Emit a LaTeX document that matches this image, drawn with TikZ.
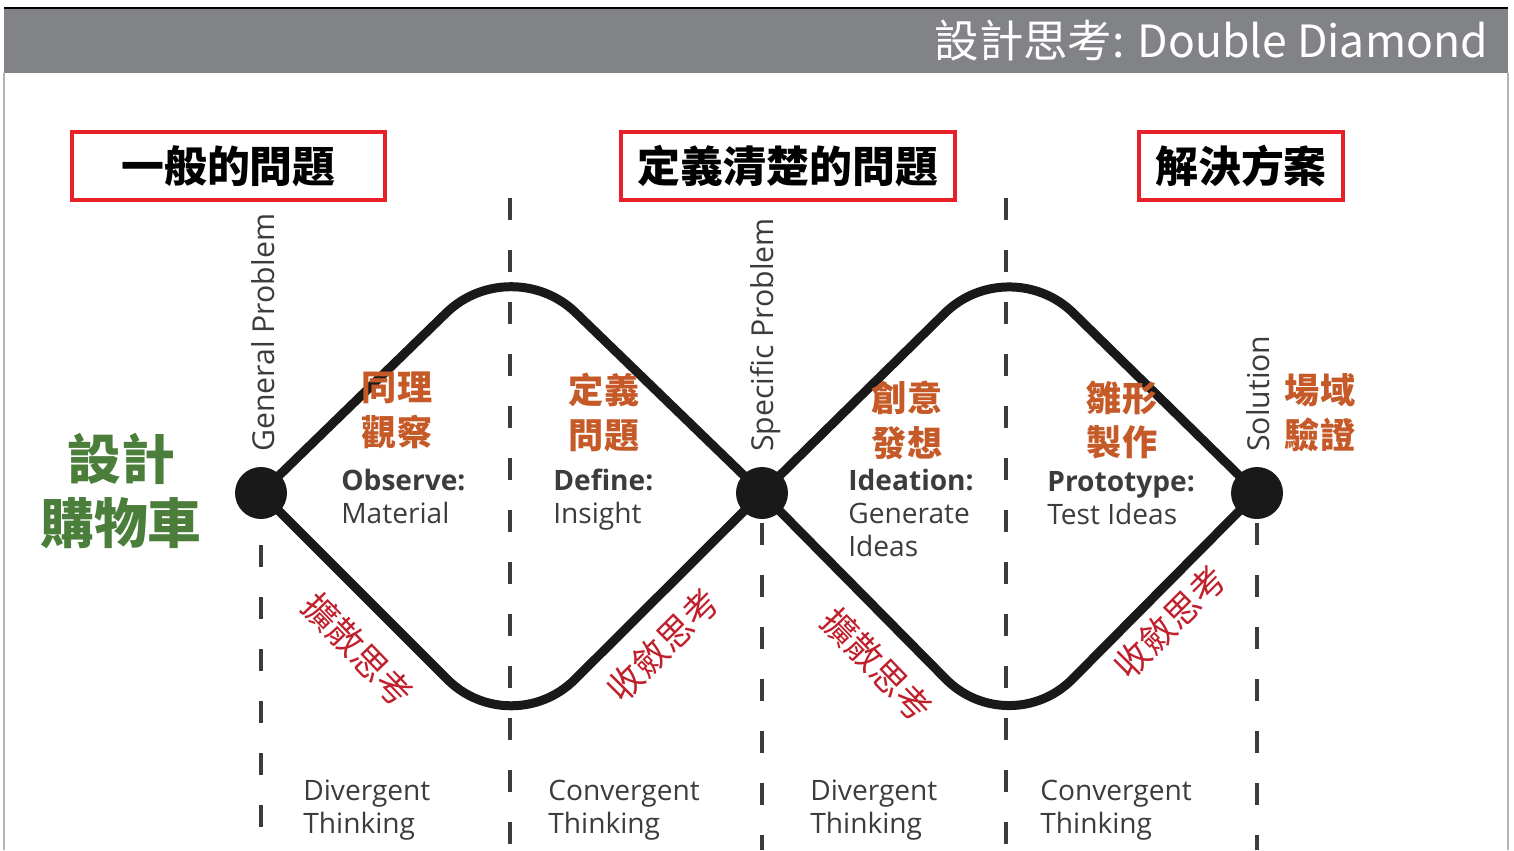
\documentclass[tikz,border=0pt]{standalone}
\usepackage{fontspec}
\setmainfont{Open Sans}
\newfontfamily\cjk{Noto Sans CJK TC}
\usetikzlibrary{positioning}
\definecolor{barcolor}{HTML}{828387}
\definecolor{boxred}{HTML}{E8202A}
\definecolor{phasecolor}{HTML}{C55A28}
\definecolor{thinkred}{HTML}{C0202C}
\definecolor{cartgreen}{HTML}{4B7D3B}
\definecolor{inkgray}{HTML}{3C3C3C}

\begin{document}
\begin{tikzpicture}[x=0.02cm,y=-0.02cm,
   joint/.style={circle,fill=black!90,minimum size=1.04cm,inner sep=0pt},
   hump/.style={line width=0.18cm,rounded corners=1.8cm,black!90},
   guide/.style={line width=0.08cm,inkgray,dash pattern=on 0.44cm off 0.6cm},
   frame/.style={draw=boxred,line width=0.08cm,minimum height=1.36cm,inner sep=0pt,
     font=\cjk\bfseries\fontsize{24.4}{28}\selectfont},
   phase/.style={text=phasecolor,align=center,font=\cjk\bfseries\fontsize{20}{25.5}\selectfont},
   eng/.style={text=inkgray,align=left,anchor=west,inner sep=0pt,
     font=\fontsize{16}{18.7}\selectfont},
   axis/.style={text=inkgray,rotate=90,anchor=west,inner sep=0pt,
     font=\fontsize{17.2}{20}\selectfont},
   think/.style={text=thinkred,inner sep=0pt,font=\cjk\fontsize{20}{24}\selectfont}]
  \useasboundingbox (0,0) rectangle (1514,850);
  % title bar and page edges
  \fill[barcolor] (4,8) rectangle (1508,73);
  \draw[black,line width=1.2pt] (4,8) -- (1508,8);
  \draw[gray!60,line width=0.8pt] (4,73) -- (4,850) (1508,73) -- (1508,850);
  \node[anchor=east,text=white,font=\cjk\fontsize{25.3}{30}\selectfont] (title) at (1494,41)
    {設計思考: Double Diamond};

  % red headings
  \node[frame,minimum width=6.26cm] (general) at (228.5,166) {一般的問題};
  \node[frame,minimum width=6.68cm] (defined) at (788,166) {定義清楚的問題};
  \node[frame,minimum width=4.08cm] (solved)  at (1241,166) {解決方案};

  \node[align=center,text=cartgreen,font=\cjk\bfseries\fontsize{30.6}{36.9}\selectfont]
    (cart) at (121,491) {設計\\購物車};

  % diamond geometry
  \coordinate (top1) at (511,250);
  \coordinate (low1) at (511,743);
  \coordinate (top2) at (1009,250);
  \coordinate (low2) at (1009,743);
  \coordinate (guideA) at (510,198);
  \coordinate (guideB) at (1006,198);
  \coordinate (floor) at (0,850);
  \coordinate (gen) at (261,493);
  \coordinate (spec) at (762,493);
  \coordinate (sol) at (1257,493);

  \draw[guide] (guideA) -- (guideA |- floor);
  \draw[guide] (guideB) -- (guideB |- floor);
  \draw[guide] (gen) ++(0,52) -- (gen |- floor);
  \draw[guide] (spec) ++(0,30) -- (spec |- floor);
  \draw[guide] (sol) ++(0,30) -- (sol |- floor);

  \draw[hump] (gen) -- (top1) -- (spec);
  \draw[hump] (gen) -- (low1) -- (spec);
  \draw[hump] (spec) -- (top2) -- (sol);
  \draw[hump] (spec) -- (low2) -- (sol);

  \node[joint] (genDot)  at (gen) {};
  \node[joint] (specDot) at (spec) {};
  \node[joint] (solDot)  at (sol) {};

  % milestones
  \node[axis] (genLabel)  at (263,452) {General Problem};
  \node[axis] (specLabel) at (766,452) {Specific Problem};
  \node[axis] (solLabel)  at (1258,452) {Solution};

  % phases
  \node[phase] (empathy)  at (397,410.5) {同理\\觀察};
  \node[phase] (define)   at (604,412.5) {定義\\問題};
  \node[phase] (ideate)   at (907,420) {創意\\發想};
  \node[phase] (proto)    at (1122,420) {雛形\\製作};
  \node[phase] (field)    at (1320,412.5) {場域\\驗證};

  \node[eng] (observe) at (341,496.5) {\textbf{Observe:}\\Material};
  \node[eng] (insight) at (553,499.5) {\textbf{Define:}\\Insight};
  \node[eng] (ideas)   at (848,513) {\textbf{Ideation:}\\Generate\\Ideas};
  \node[eng] (test)    at (1047,498) {\textbf{Prototype:}\\Test Ideas};

  \node[think,rotate=-46] (div1) at (358,650) {擴散思考};
  \node[think,rotate=45]  (con1) at (663,645) {收斂思考};
  \node[think,rotate=-46] (div2) at (877,665) {擴散思考};
  \node[think,rotate=45]  (con2) at (1170,622) {收斂思考};

  \node[eng] (divT1) at (303,810) {Divergent\\Thinking};
  \node[eng] (conT1) at (548,810) {Convergent\\Thinking};
  \node[eng] (divT2) at (810,810) {Divergent\\Thinking};
  \node[eng] (conT2) at (1040,810) {Convergent\\Thinking};
\end{tikzpicture}
\end{document}
